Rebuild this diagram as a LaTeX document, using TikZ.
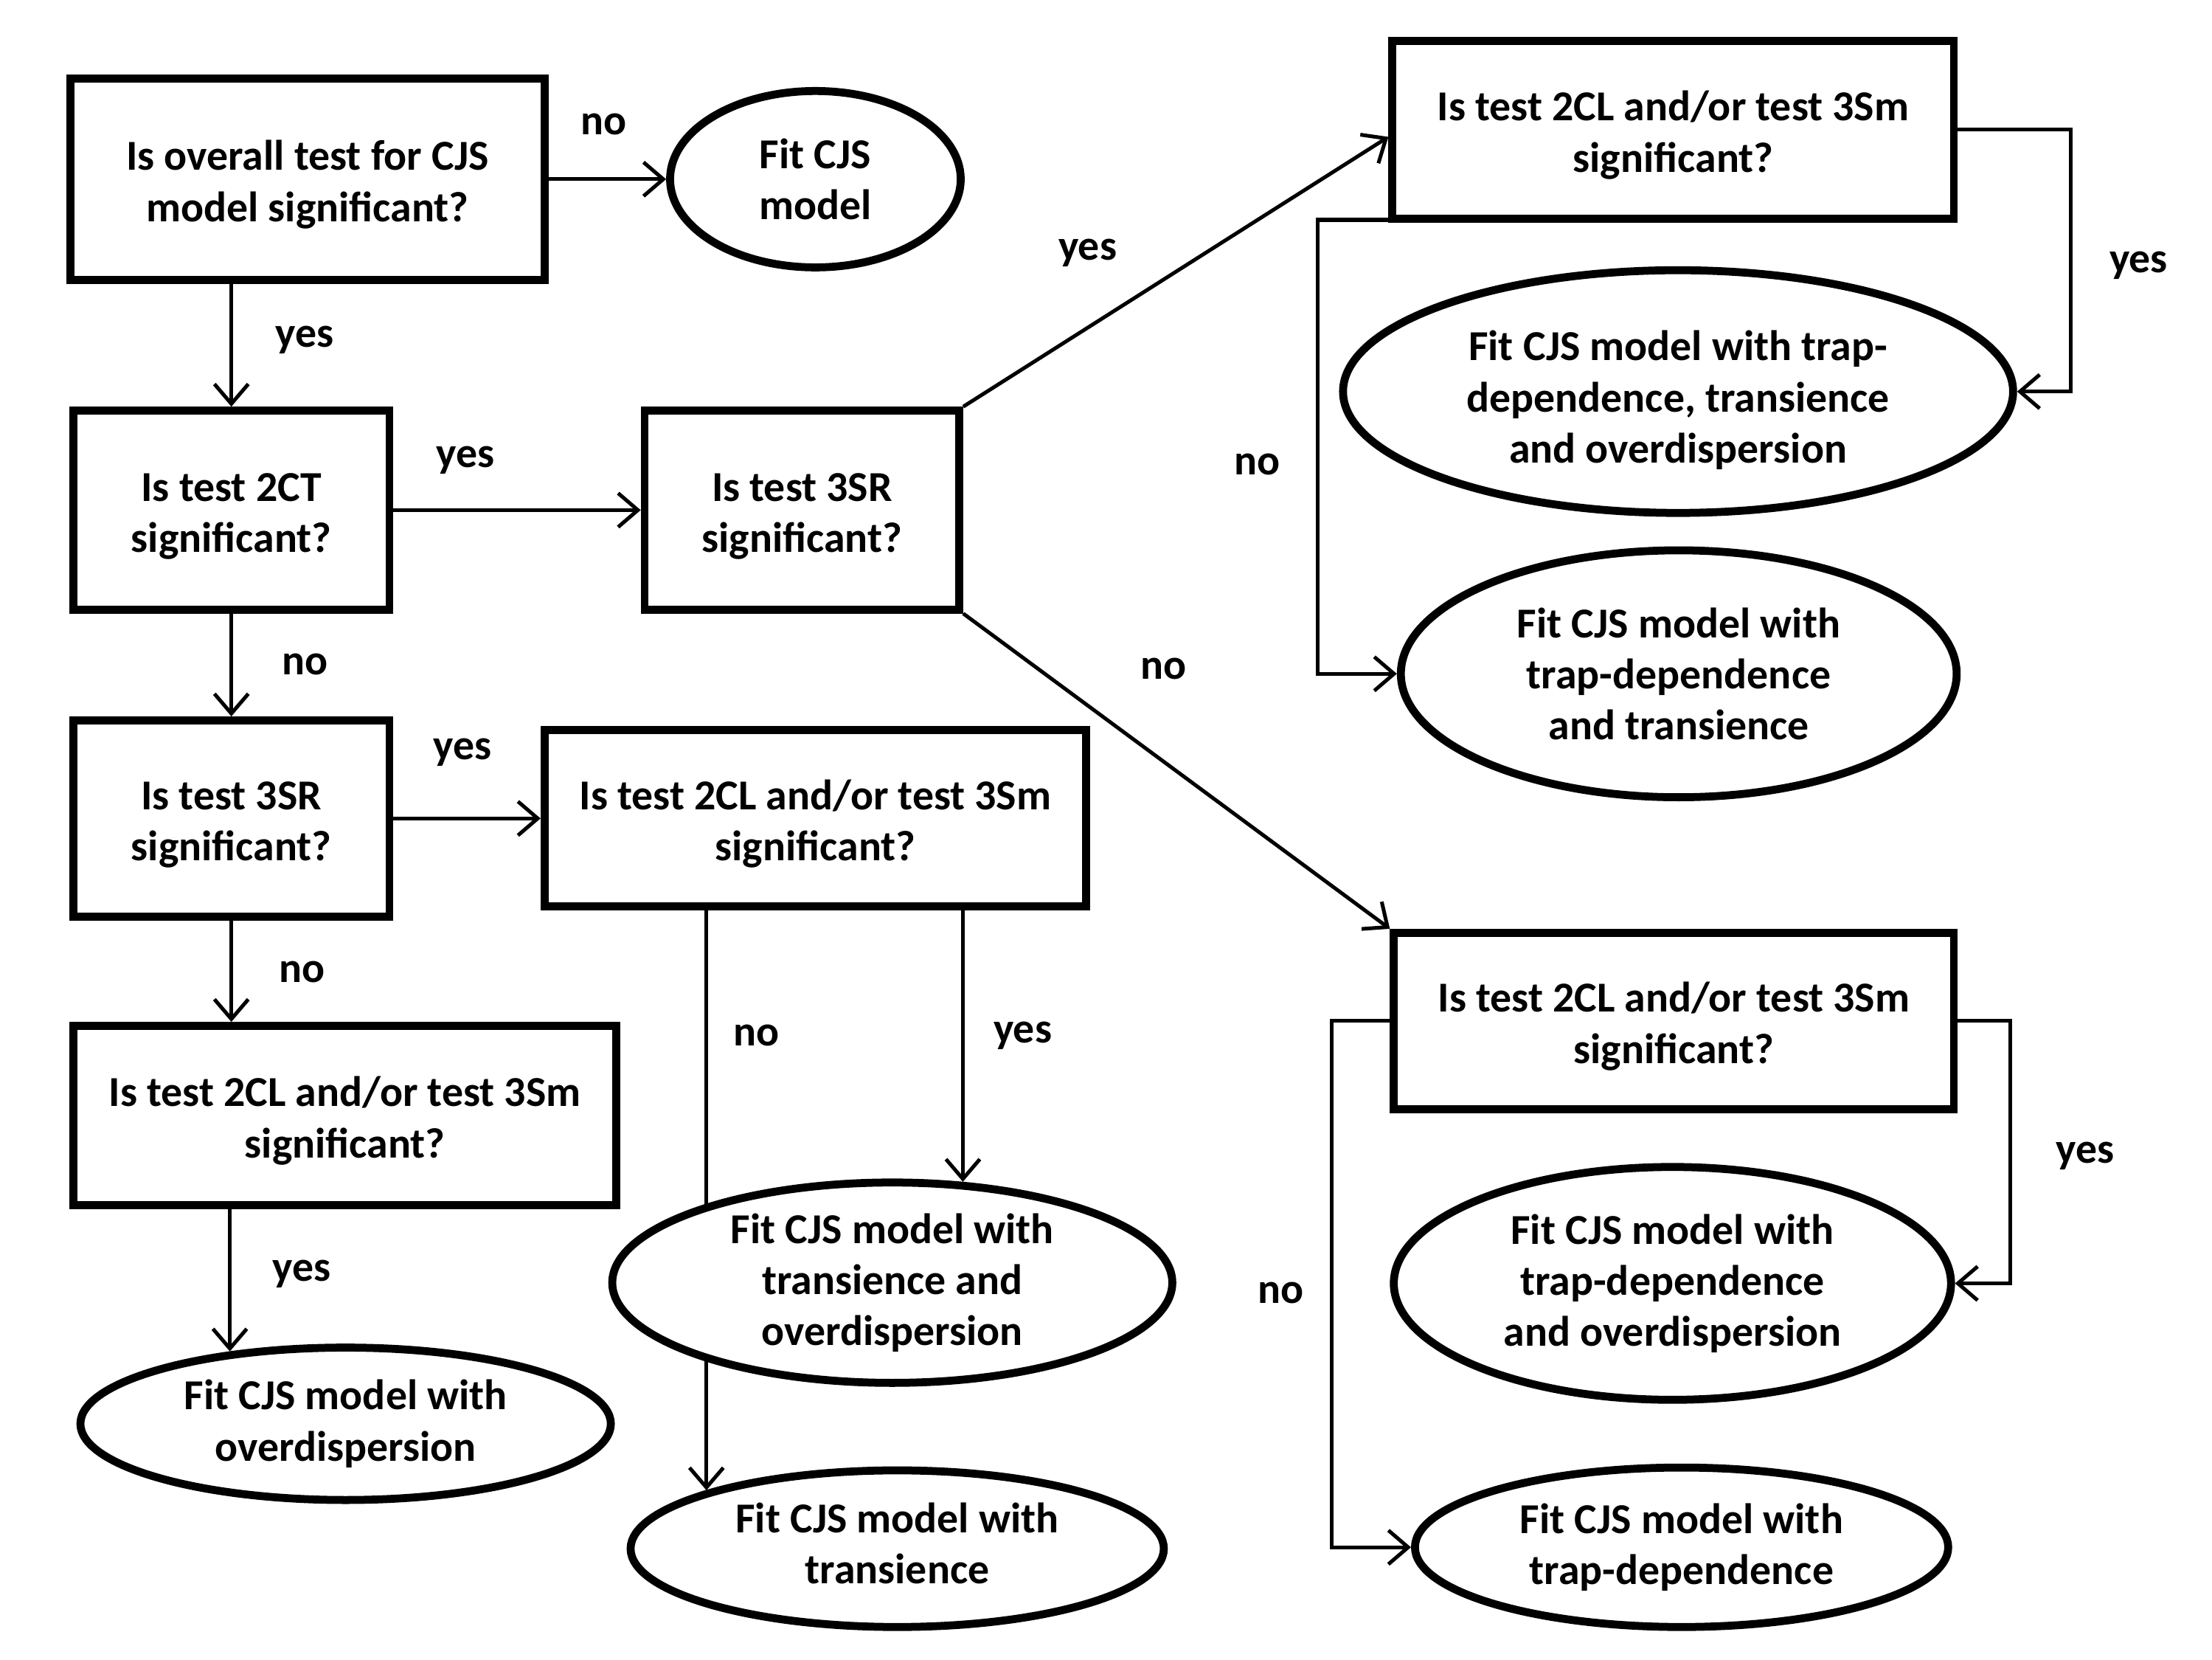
\documentclass[tikz,border=0pt]{standalone}
\usepackage{fontspec}
\setmainfont{Carlito}
\usetikzlibrary{shapes.geometric,arrows.meta,backgrounds}

\begin{document}
\begin{tikzpicture}[
    testbox/.style={draw, line width=1.6pt, fill=white, align=center, inner sep=0pt,
      execute at begin node={\rule{0pt}{2.15em}}},
    fitnode/.style={ellipse, draw, line width=1.6pt, fill=white, align=center, inner sep=0pt},
    textdown/.style={execute at begin node={\rule{0pt}{#1}}},
    textup/.style={execute at end node={\rule[-#1]{0pt}{0pt}}},
    arr/.style={line width=0.75pt, -{Straight Barb[length=1.4mm, width=2.4mm]}},
    lbl/.style={inner sep=0pt},
    every node/.style={font=\fontsize{8.6}{10.3}\selectfont\bfseries}
  ]
  \useasboundingbox (0,0) rectangle (15.68,-11.76);

  % Tests
  \node[testbox, minimum width=3.36cm, minimum height=1.43cm] (overall) at (2.18,-1.27) {Is overall test for CJS\\model significant?};
  \node[testbox, minimum width=2.24cm, minimum height=1.41cm] (ct) at (1.64,-3.615) {Is test 2CT\\significant?};
  \node[testbox, minimum width=2.23cm, minimum height=1.41cm] (srA) at (5.685,-3.615) {Is test 3SR\\significant?};
  \node[testbox, minimum width=2.24cm, minimum height=1.39cm] (srB) at (1.64,-5.80) {Is test 3SR\\significant?};
  \node[testbox, minimum width=3.84cm, minimum height=1.25cm] (clB) at (5.78,-5.80) {Is test 2CL and/or test 3Sm\\significant?};
  \node[testbox, minimum width=3.85cm, minimum height=1.27cm] (clC) at (2.445,-7.905) {Is test 2CL and/or test 3Sm\\significant?};
  \node[testbox, minimum width=3.98cm, minimum height=1.26cm] (clA) at (11.86,-0.92) {Is test 2CL and/or test 3Sm\\significant?};
  \node[testbox, minimum width=3.97cm, minimum height=1.25cm] (clD) at (11.865,-7.235) {Is test 2CL and/or test 3Sm\\significant?};

  % Models
  \node[fitnode, minimum width=2.06cm, minimum height=1.25cm] (cjs) at (5.78,-1.27) {Fit CJS\\model};
  \node[fitnode, minimum width=3.76cm, minimum height=1.08cm] (od) at (2.45,-10.09) {Fit CJS model with\\overdispersion};
  \node[fitnode, minimum width=3.97cm, minimum height=1.42cm] (trod) at (6.325,-9.09) {Fit CJS model with\\transience and\\overdispersion};
  \node[fitnode, textup=0.25em, minimum width=3.78cm, minimum height=1.11cm] (tr) at (6.36,-10.975) {Fit CJS model with\\transience};
  \node[fitnode, textdown=3.5em, minimum width=4.75cm, minimum height=1.72cm] (tdtrod) at (11.895,-2.775) {Fit CJS model with trap-\\dependence, transience\\and overdispersion};
  \node[fitnode, minimum width=3.94cm, minimum height=1.75cm] (tdtr) at (11.90,-4.775) {Fit CJS model with\\trap-dependence\\and transience};
  \node[fitnode, minimum width=3.95cm, minimum height=1.65cm] (tdod) at (11.855,-9.095) {Fit CJS model with\\trap-dependence\\and overdispersion};
  \node[fitnode, minimum width=3.78cm, minimum height=1.13cm] (td) at (11.92,-10.965) {Fit CJS model with\\trap-dependence};

  % Arrows
  \begin{scope}[on background layer]
    \draw[arr] (overall.east) -- (cjs.west);
    \draw[arr] (ct.north |- overall.south) -- (ct.north);
    \draw[arr] (ct.east) -- (srA.west);
    \draw[arr] (ct.south) -- (srB.north);
    \draw[arr] (srB.east) -- (clB.west);
    \draw[arr] (srB.south) -- (srB.south |- clC.north);
    \draw[arr] (clC.south -| od.148) -- (od.148);
    \draw[arr] (clB.south -| trod.55) -- (trod.55);
    \draw[arr] (clB.south -| tr.163) -- (tr.163);
    \draw[arr] (srA.north east) -- ([yshift=-0.5mm]clA.west);
    \draw[arr] (srA.south east) -- (clD.north west);
    \draw[arr] (clA.east) -- ++(0.8,0) |- (tdtrod.east);
    \draw[arr] ([yshift=0.2mm]clA.south west) -- ++(-0.5,0) |- (tdtr.west);
    \draw[arr] (clD.east) -- ++(0.37,0) |- (tdod.east);
    \draw[arr] (clD.west) -- ++(-0.41,0) |- (td.west);
  \end{scope}

  % Labels
  \node[lbl] (l1) at (4.28,-0.88) {no};
  \node[lbl] (l2) at (2.16,-2.41) {yes};
  \node[lbl] (l3) at (3.30,-3.26) {yes};
  \node[lbl] (l4) at (2.16,-4.71) {no};
  \node[lbl] (l5) at (3.28,-5.33) {yes};
  \node[lbl] (l6) at (2.14,-6.89) {no};
  \node[lbl] (l7) at (2.14,-9.03) {yes};
  \node[lbl] (l8) at (5.36,-7.34) {no};
  \node[lbl] (l9) at (7.25,-7.34) {yes};
  \node[lbl] (l10) at (7.71,-1.79) {yes};
  \node[lbl] (l11) at (8.25,-4.74) {no};
  \node[lbl] (l12) at (8.91,-3.29) {no};
  \node[lbl] (l13) at (15.16,-1.88) {yes};
  \node[lbl] (l14) at (14.78,-8.19) {yes};
  \node[lbl] (l15) at (9.08,-9.16) {no};
\end{tikzpicture}
\end{document}
